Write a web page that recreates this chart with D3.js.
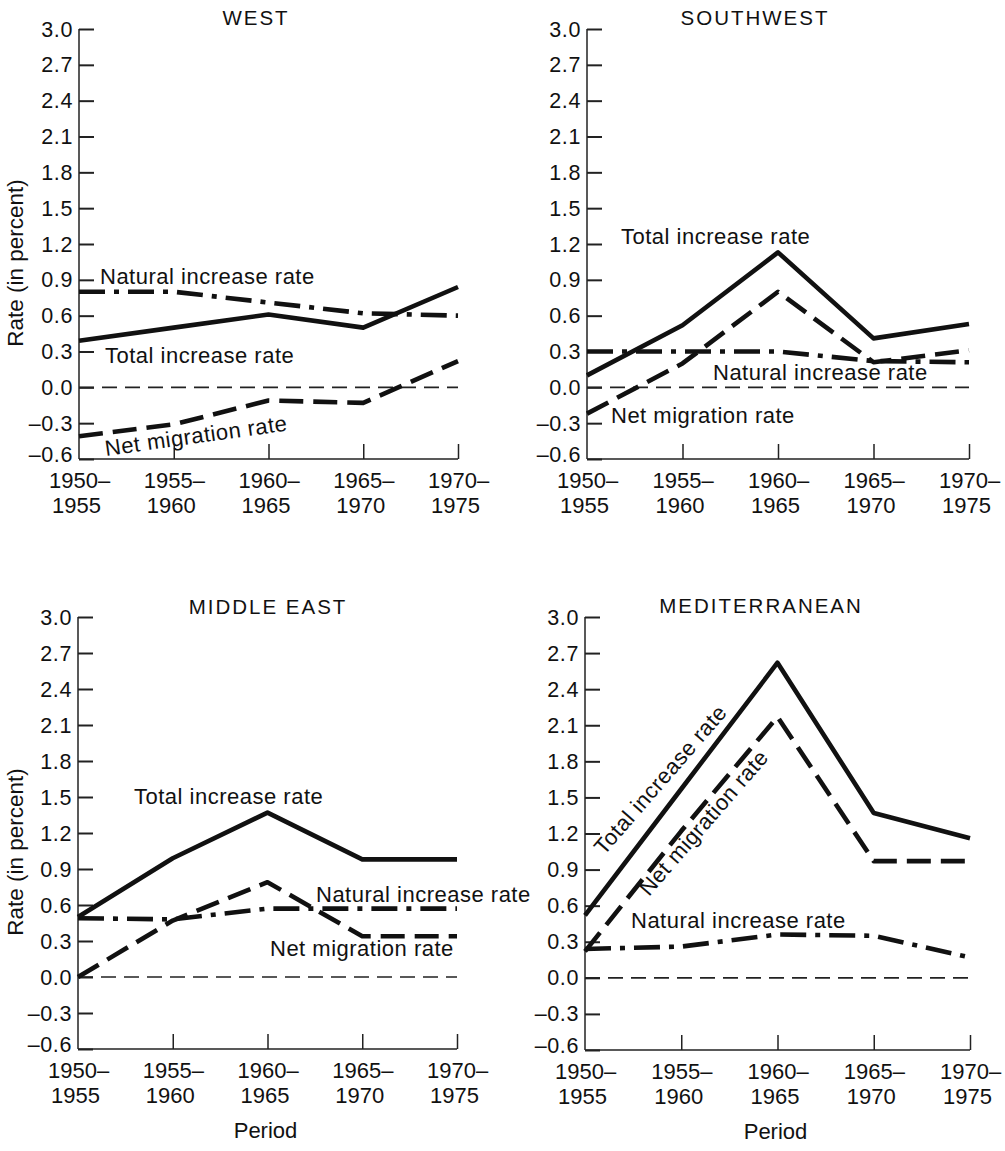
<!DOCTYPE html>
<html>
<head>
<meta charset="utf-8">
<script src="https://cdn.jsdelivr.net/npm/d3@7"></script>
<style>
  html, body { margin: 0; padding: 0; background: #fff; }
  svg { display: block; }
  text { font-family: "Liberation Sans", Arial, Helvetica, sans-serif; fill: #111; }
</style>
</head>
<body>
<svg id="chart" width="1005" height="1151"></svg>
<script>
// ---------------- DATA ----------------
const periodStart = ["1950", "1955", "1960", "1965", "1970"];
const periodEnd   = ["1955", "1960", "1965", "1970", "1975"];
const regions = ["WEST", "SOUTHWEST", "MIDDLE EAST", "MEDITERRANEAN"];
const yTicks = [-0.6, -0.3, 0.0, 0.3, 0.6, 0.9, 1.2, 1.5, 1.8, 2.1, 2.4, 2.7, 3.0];

const westTotal   = [0.39, 0.50, 0.61, 0.50, 0.84];
const westNatural = [0.80, 0.80, 0.71, 0.62, 0.60];
const westNet     = [-0.41, -0.31, -0.11, -0.13, 0.22];

const southwestTotal   = [0.10, 0.52, 1.13, 0.41, 0.53];
const southwestNatural = [0.30, 0.30, 0.30, 0.22, 0.21];
const southwestNet     = [-0.22, 0.20, 0.80, 0.21, 0.31];

const middleEastTotal   = [0.50, 0.99, 1.37, 0.98, 0.98];
const middleEastNatural = [0.49, 0.48, 0.57, 0.57, 0.57];
const middleEastNet     = [0.00, 0.47, 0.79, 0.34, 0.34];

const mediterraneanTotal   = [0.52, 1.57, 2.62, 1.37, 1.16];
const mediterraneanNatural = [0.24, 0.26, 0.36, 0.35, 0.17];
const mediterraneanNet     = [0.22, 1.22, 2.17, 0.97, 0.97];

const seriesNames = ["Total increase rate", "Natural increase rate", "Net migration rate"];

// ---------------- LAYOUT ----------------
const panels = [
  { name: regions[0], total: westTotal, natural: westNatural, net: westNet,
    x0: 79, x1: 458, yTop: 29, yBot: 459, titleX: 256, titleY: 25, yTitle: true, period: false,
    labels: [
      { s: 1, x: 100, y: 284, r: 0 },
      { s: 0, x: 105, y: 363, r: 0 },
      { s: 2, x: 106, y: 456, r: -8 } ] },
  { name: regions[1], total: southwestTotal, natural: southwestNatural, net: southwestNet,
    x0: 587, x1: 969, yTop: 29, yBot: 459, titleX: 755, titleY: 25, yTitle: false, period: false,
    labels: [
      { s: 0, x: 621, y: 244, r: 0 },
      { s: 1, x: 713, y: 380, r: 0 },
      { s: 2, x: 611, y: 423, r: 0 } ] },
  { name: regions[2], total: middleEastTotal, natural: middleEastNatural, net: middleEastNet,
    x0: 78, x1: 457, yTop: 617, yBot: 1049, titleX: 268, titleY: 614, yTitle: true, period: true,
    labels: [
      { s: 0, x: 134, y: 804, r: 0 },
      { s: 1, x: 316, y: 902, r: 0 },
      { s: 2, x: 270, y: 956, r: 0 } ] },
  { name: regions[3], total: mediterraneanTotal, natural: mediterraneanNatural, net: mediterraneanNet,
    x0: 585, x1: 970, yTop: 617, yBot: 1050, titleX: 761, titleY: 613, yTitle: false, period: true,
    labels: [
      { s: 0, x: 604, y: 856, r: -49 },
      { s: 2, x: 649, y: 897, r: -49 },
      { s: 1, x: 631, y: 928, r: 0 } ] }
];

const styles = {
  total:   { width: 4.6, dash: null },
  natural: { width: 4.6, dash: "26,9,5,9" },
  net:     { width: 4.6, dash: "24,10" }
};

const svg = d3.select("#chart");

panels.forEach(p => {
  const g = svg.append("g");
  const x = d3.scalePoint().domain(periodStart).range([p.x0, p.x1]);
  const y = d3.scaleLinear().domain([-0.6, 3.0]).range([p.yBot, p.yTop]);

  // Title
  g.append("text").attr("x", p.titleX).attr("y", p.titleY)
    .attr("text-anchor", "middle").attr("font-size", 20.5)
    .attr("letter-spacing", 2).text(p.name);

  // Y axis (ticks pointing inward)
  const yAxis = d3.axisRight(y).tickValues(yTicks).tickSize(15).tickFormat("");
  const ya = g.append("g").attr("transform", `translate(${p.x0},0)`).call(yAxis);
  ya.select(".domain").attr("stroke", "#222").attr("stroke-width", 1.5).attr("d", `M0,${p.yTop}V${p.yBot}`);
  ya.selectAll(".tick line").attr("stroke", "#222").attr("stroke-width", 2);
  // tick labels (lowest label sits slightly above its tick, as in the original)
  g.selectAll("text.ytl").data(yTicks).enter().append("text")
    .attr("class", "ytl")
    .attr("x", p.x0 - 6).attr("y", d => y(d) + 7.5 - (d === yTicks[0] ? 5 : 0))
    .attr("text-anchor", "end").attr("font-size", 21.5).attr("letter-spacing", 0.6)
    .text(d => (d < 0 ? "\u2013" + Math.abs(d).toFixed(1) : d.toFixed(1)));

  // X axis (ticks pointing up)
  const xAxis = d3.axisTop(x).tickSize(15).tickFormat("");
  const xa = g.append("g").attr("transform", `translate(0,${p.yBot})`).call(xAxis);
  xa.select(".domain").attr("stroke", "#222").attr("stroke-width", 1.5).attr("d", `M${p.x0},0H${p.x1}`);
  xa.selectAll(".tick line").attr("stroke", "#222").attr("stroke-width", 1.5);
  xa.selectAll(".tick").filter(d => d === periodStart[0]).remove();

  // x tick labels
  periodStart.forEach((s, i) => {
    const t = g.append("text").attr("font-size", 22).attr("text-anchor", "start");
    const xi = x(s) - 30;
    t.append("tspan").attr("x", xi).attr("y", p.yBot + 29).text(s + "\u2013");
    t.append("tspan").attr("x", xi + 3).attr("y", p.yBot + 54).text(periodEnd[i]);
  });

  // zero reference line
  g.append("line").attr("x1", p.x0).attr("x2", p.x1).attr("y1", y(0)).attr("y2", y(0))
    .attr("stroke", "#222").attr("stroke-width", 1.6).attr("stroke-dasharray", "15,8");

  // series lines
  const line = d3.line().x((d, i) => x(periodStart[i])).y(d => y(d));
  [["natural", p.natural], ["net", p.net], ["total", p.total]].forEach(([k, vals]) => {
    g.append("path").datum(vals).attr("d", line)
      .attr("fill", "none").attr("stroke", "#111")
      .attr("stroke-width", styles[k].width)
      .attr("stroke-linejoin", "round")
      .attr("stroke-dasharray", styles[k].dash);
  });

  // series labels
  p.labels.forEach(l => {
    g.append("text").attr("font-size", 22).attr("letter-spacing", 0.5)
      .attr("transform", `translate(${l.x},${l.y}) rotate(${l.r})`)
      .text(seriesNames[l.s]);
  });

  // Y title
  if (p.yTitle) {
    const cy = (p.yTop + p.yBot) / 2 + 19;
    g.append("text").attr("font-size", 22.5).attr("text-anchor", "middle")
      .attr("transform", `translate(23,${cy}) rotate(-90)`)
      .text("Rate (in percent)");
  }
  if (p.period) {
    g.append("text").attr("font-size", 22).attr("text-anchor", "middle")
      .attr("x", x(periodStart[2]) - 2).attr("y", p.yBot + 89)
      .text("Period");
  }
});
</script>
</body>
</html>
